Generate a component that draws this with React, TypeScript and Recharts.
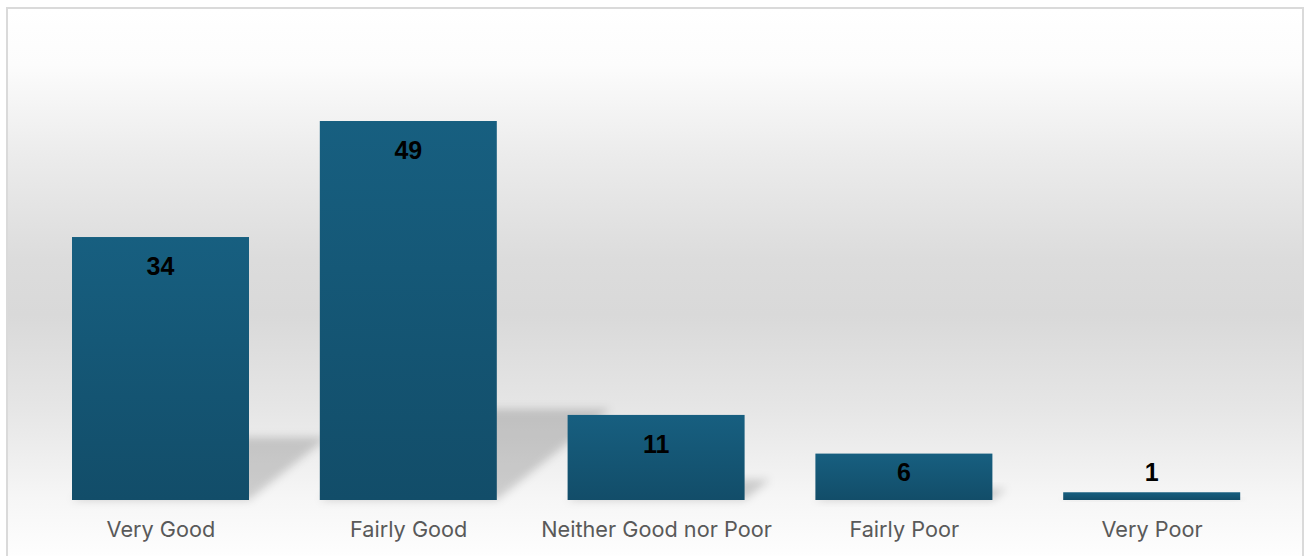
import React from 'react';
import { BarChart, Bar, XAxis, YAxis, LabelList } from 'recharts';

const categories = ['Very Good', 'Fairly Good', 'Neither Good nor Poor', 'Fairly Poor', 'Very Poor'];
const counts = [34, 49, 11, 6, 1];

const data = categories.map((name, i) => ({ name, value: counts[i] }));

const ShadowBar = (props: any) => {
  const { x, y, width, height, index } = props;
  if (!height || height <= 0) return null;
  const base = y + height;
  const sh = height * 0.24;
  const dx = sh * 1.25;
  const pts = `${x},${base} ${x + width},${base} ${x + width + dx},${base - sh} ${x + dx},${base - sh}`;
  return (
    <g>
      <defs>
        <linearGradient id={`barGrad${index}`} x1="0" y1="0" x2="0" y2="1">
          <stop offset="0%" stopColor="#175f80" />
          <stop offset="100%" stopColor="#124d69" />
        </linearGradient>
        <filter id={`blur${index}`} x="-30%" y="-60%" width="160%" height="220%">
          <feGaussianBlur stdDeviation="4" />
        </filter>
      </defs>
      <polygon points={pts} fill="#000" fillOpacity={0.17} filter={`url(#blur${index})`} />
      <rect x={x} y={y} width={width} height={height} fill={`url(#barGrad${index})`} />
    </g>
  );
};

const ValueLabel = (props: any) => {
  const { x, y, width, height, value } = props;
  let ty;
  if (height >= 60) ty = y + 38;
  else if (height >= 25) ty = y + height / 2 + 4;
  else ty = y - 11;
  return (
    <text
      x={x + width / 2}
      y={ty}
      textAnchor="middle"
      fontFamily="'Liberation Sans', Arial, sans-serif"
      fontWeight="bold"
      fontSize={25}
      fill="#000"
    >
      {value}
    </text>
  );
};

const CategoryTick = (props: any) => {
  const { x, y, payload } = props;
  return (
    <text x={x} y={y + 29} textAnchor="middle" fontFamily="Inter, sans-serif" fontSize={21.7} fill="#595959">
      {payload.value}
    </text>
  );
};

export default function App() {
  return (
    <div
      style={{
        position: 'absolute',
        left: 6,
        top: 7,
        width: 1298,
        height: 560,
        boxSizing: 'border-box',
        border: '2px solid #dadada',
        background:
          'linear-gradient(to bottom, #ffffff 0%, #fcfcfc 10%, #ebebeb 27%, #dcdcdc 45%, #d9d9d9 55%, #e6e6e6 72%, #f6f6f6 88%, #ffffff 100%)',
      }}
    >
      <BarChart
        width={1294}
        height={556}
        data={data}
        margin={{ top: 65.6, right: 26, bottom: 25, left: 29 }}
      >
        <XAxis
          dataKey="name"
          axisLine={false}
          tickLine={false}
          height={40}
          interval={0}
          tick={<CategoryTick />}
        />
        <YAxis hide domain={[0, 55]} />
        <Bar dataKey="value" barSize={177} shape={<ShadowBar />} isAnimationActive={false}>
          <LabelList dataKey="value" content={<ValueLabel />} />
        </Bar>
      </BarChart>
    </div>
  );
}
